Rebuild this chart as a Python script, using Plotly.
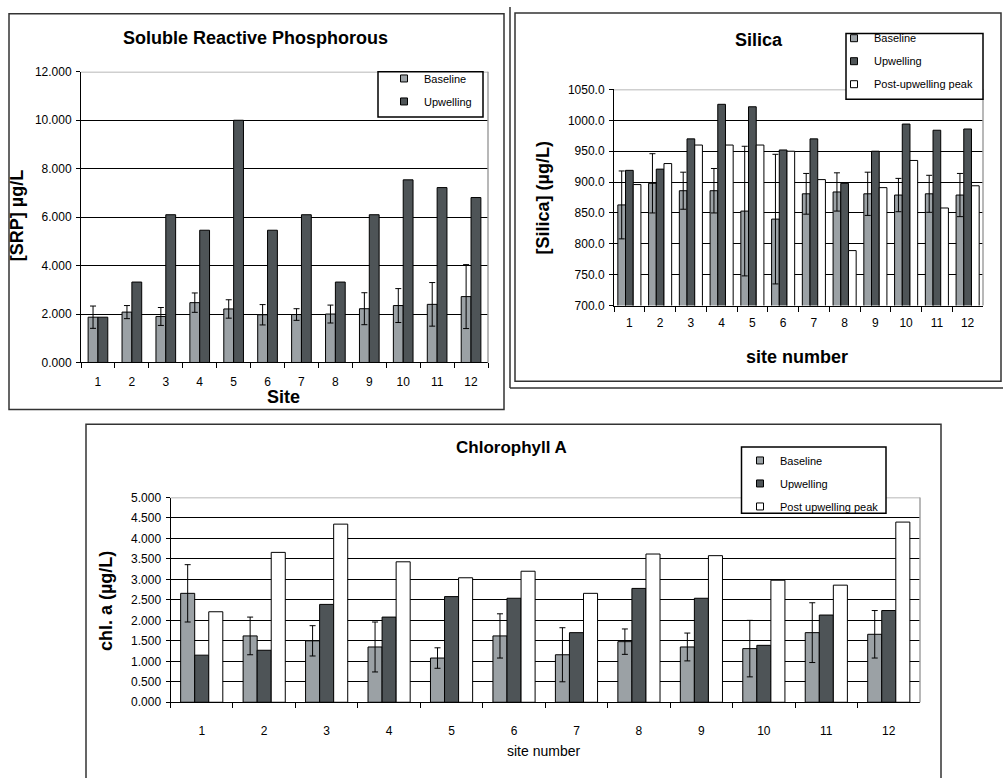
import plotly.graph_objects as go

W, H = 1003, 778

sites = [str(i) for i in range(1, 13)]

# Soluble Reactive Phosphorous (µg/L)
srp_baseline = [1.87, 2.08, 1.90, 2.47, 2.21, 1.97, 1.98, 2.00, 2.22, 2.35, 2.40, 2.72]
srp_baseline_err = [0.46, 0.27, 0.37, 0.40, 0.38, 0.42, 0.24, 0.37, 0.66, 0.70, 0.90, 1.32]
srp_upwelling = [1.87, 3.32, 6.10, 5.46, 10.00, 5.46, 6.10, 3.32, 6.10, 7.54, 7.22, 6.81]

# Silica (µg/L)
si_baseline = [863, 898, 886, 886, 853, 840, 881, 884, 881, 879, 881, 879]
si_baseline_err = [55, 48, 30, 36, 105, 105, 33, 31, 35, 27, 30, 35]
si_upwelling = [919, 921, 970, 1026, 1022, 952, 970, 898, 950, 994, 984, 986]
si_post = [896, 930, 960, 960, 960, 950, 904, 789, 891, 935, 858, 894]

# Chlorophyll a (µg/L)
chl_baseline = [2.66, 1.62, 1.50, 1.35, 1.08, 1.62, 1.16, 1.48, 1.35, 1.31, 1.70, 1.66]
chl_baseline_err = [0.70, 0.46, 0.37, 0.61, 0.25, 0.54, 0.66, 0.31, 0.34, 0.69, 0.73, 0.58]
chl_upwelling = [1.15, 1.27, 2.39, 2.08, 2.58, 2.54, 1.70, 2.78, 2.54, 1.39, 2.13, 2.24]
chl_post = [2.21, 3.66, 4.35, 3.43, 3.04, 3.20, 2.66, 3.62, 3.58, 2.98, 2.86, 4.40]

C_BASE = "#9ba1a5"
C_UP = "#4e5457"
C_POST = "#ffffff"
FONT = "Liberation Sans, Arial, sans-serif"


def px(x):
    return x / W


def py(y):
    return 1 - y / H


fig = go.Figure()

err_style = dict(type="data", symmetric=True, color="black", thickness=1, width=3)
line_style = dict(color="black", width=1)

# --- SRP ---
fig.add_trace(go.Bar(x=sites, y=srp_baseline, name="Baseline", marker=dict(color=C_BASE, line=line_style),
                     error_y=dict(array=srp_baseline_err, **err_style), xaxis="x", yaxis="y", showlegend=False))
fig.add_trace(go.Bar(x=sites, y=srp_upwelling, name="Upwelling", marker=dict(color=C_UP, line=line_style),
                     xaxis="x", yaxis="y", showlegend=False))
# --- Silica ---
fig.add_trace(go.Bar(x=sites, y=si_baseline, name="Baseline", marker=dict(color=C_BASE, line=line_style),
                     error_y=dict(array=si_baseline_err, **err_style), xaxis="x2", yaxis="y2", showlegend=False))
fig.add_trace(go.Bar(x=sites, y=si_upwelling, name="Upwelling", marker=dict(color=C_UP, line=line_style),
                     xaxis="x2", yaxis="y2", showlegend=False))
fig.add_trace(go.Bar(x=sites, y=si_post, name="Post-upwelling peak", marker=dict(color=C_POST, line=line_style),
                     xaxis="x2", yaxis="y2", showlegend=False))
# --- Chlorophyll ---
fig.add_trace(go.Bar(x=sites, y=chl_baseline, name="Baseline", marker=dict(color=C_BASE, line=line_style),
                     error_y=dict(array=chl_baseline_err, **err_style), xaxis="x3", yaxis="y3", showlegend=False))
fig.add_trace(go.Bar(x=sites, y=chl_upwelling, name="Upwelling", marker=dict(color=C_UP, line=line_style),
                     xaxis="x3", yaxis="y3", showlegend=False))
fig.add_trace(go.Bar(x=sites, y=chl_post, name="Post upwelling peak", marker=dict(color=C_POST, line=line_style),
                     xaxis="x3", yaxis="y3", showlegend=False))


# legend entries (small square swatches)
def legend_entry(name, color, leg, xa, ya, grp):
    fig.add_trace(go.Scatter(x=[None], y=[None], mode="markers", name=name, legend=leg, legendgroup=grp,
                             marker=dict(symbol="square", size=7, color=color, line=dict(color="black", width=1)),
                             xaxis=xa, yaxis=ya, showlegend=True))


legend_entry("Baseline", C_BASE, "legend", "x", "y", "a1")
legend_entry("Upwelling", C_UP, "legend", "x", "y", "a2")
legend_entry("Baseline", C_BASE, "legend2", "x2", "y2", "b1")
legend_entry("Upwelling", C_UP, "legend2", "x2", "y2", "b2")
legend_entry("Post-upwelling peak", C_POST, "legend2", "x2", "y2", "b3")
legend_entry("Baseline", C_BASE, "legend3", "x3", "y3", "c1")
legend_entry("Upwelling", C_UP, "legend3", "x3", "y3", "c2")
legend_entry("Post upwelling peak", C_POST, "legend3", "x3", "y3", "c3")

tickfont = dict(family=FONT, size=12, color="black")


def xax(dom, anchor, standoff):
    return dict(domain=dom, anchor=anchor, type="category", tickson="boundaries", ticks="outside", ticklen=5,
                tickcolor="black", showline=True, linecolor="black", linewidth=1, tickfont=tickfont,
                showgrid=False, fixedrange=True, ticklabelstandoff=standoff)


def yax(dom, anchor, rng, dtick, fmt):
    return dict(domain=dom, anchor=anchor, range=rng, dtick=dtick, tick0=rng[0], tickformat=fmt, ticks="outside",
                ticklen=4, tickcolor="black", showline=True, linecolor="black", linewidth=1, showgrid=True,
                gridcolor="black", gridwidth=1, zeroline=False, tickfont=tickfont, fixedrange=True,
                ticklabelstandoff=2)


srp_x = [px(81), px(488)]
srp_y = [py(362), py(66)]
si_x = [px(614), px(983)]
si_y = [py(304), py(84)]
chl_x = [px(170.5), px(920)]
chl_y = [py(708), py(499.5)]

leg_common = dict(bgcolor="rgba(0,0,0,0)", borderwidth=0, font=dict(family=FONT, size=11, color="black"),
                  xanchor="left", yanchor="top", tracegroupgap=4, itemclick=False, itemdoubleclick=False)

fig.update_layout(
    width=W, height=H, margin=dict(l=0, r=0, t=0, b=0), autosize=False,
    paper_bgcolor="white", plot_bgcolor="white",
    barmode="group", bargroupgap=0,
    xaxis=xax(srp_x, "y", 8), yaxis=yax(srp_y, "x", [0, 12], 2, ".3f"),
    xaxis2=xax(si_x, "y2", 6), yaxis2=yax(si_y, "x2", [700, 1050], 50, ".1f"),
    xaxis3=xax(chl_x, "y3", 17), yaxis3=yax(chl_y, "x3", [0, 5], 0.5, ".3f"),
    legend=dict(x=px(384), y=py(58), **leg_common),
    legend2=dict(x=px(834), y=py(17), **leg_common),
    legend3=dict(x=px(740), y=py(447), **leg_common),
    showlegend=True,
)

# bar widths / offsets (category units) so each panel matches its own spacing
widths = {"x": 0.29, "x2": 0.25, "x3": 0.225}
offs = {"x": [-0.29, 0.0], "x2": [-0.375, -0.125, 0.125], "x3": [-0.3375, -0.1125, 0.1125]}
counters = {"x": 0, "x2": 0, "x3": 0}
for tr in fig.data:
    if tr.type == "bar":
        k = tr.xaxis
        tr.width = widths[k]
        tr.offset = offs[k][counters[k]]
        counters[k] += 1

shapes = []
# panel frames
shapes.append(dict(type="rect", xref="paper", yref="paper", x0=px(9), x1=px(504), y0=py(410), y1=py(7),
                   line=dict(color="#333333", width=1.5), layer="below"))
shapes.append(dict(type="line", xref="paper", yref="paper", x0=px(510), x1=px(510), y0=py(388), y1=py(0),
                   line=dict(color="#333333", width=1.5)))
shapes.append(dict(type="line", xref="paper", yref="paper", x0=px(510), x1=px(1003), y0=py(388), y1=py(388),
                   line=dict(color="#333333", width=1.5)))
shapes.append(dict(type="rect", xref="paper", yref="paper", x0=px(515), x1=px(1001), y0=py(381), y1=py(6),
                   line=dict(color="#333333", width=1.5), layer="below"))
shapes.append(dict(type="rect", xref="paper", yref="paper", x0=px(86), x1=px(941), y0=py(800), y1=py(425),
                   line=dict(color="#333333", width=1.5), layer="below"))
# plot-area top and right borders (grey)
for xa, ya, top in [("x", "y", 12), ("x2", "y2", 1050), ("x3", "y3", 5)]:
    shapes.append(dict(type="line", xref=xa + " domain", yref=ya, x0=0, x1=1, y0=top, y1=top,
                       line=dict(color="#a0a0a0", width=1.5), layer="above"))
    shapes.append(dict(type="line", xref=xa + " domain", yref=ya + " domain", x0=1, x1=1, y0=0, y1=1,
                       line=dict(color="#a0a0a0", width=1.5), layer="above"))
# legend boxes
for x0, x1, y0, y1 in [(378, 483, 66, 112), (846, 983, 27, 94), (741.5, 886, 448, 515.5)]:
    shapes.append(dict(type="rect", xref="paper", yref="paper", x0=px(x0), x1=px(x1), y0=py(y1), y1=py(y0),
                       line=dict(color="black", width=1.5), fillcolor="white", layer="above"))
fig.update_layout(shapes=shapes)


def ann(text, x, y, size, bold=True, angle=0):
    fig.add_annotation(text=f"<b>{text}</b>" if bold else text, x=px(x), y=py(y), xref="paper", yref="paper",
                       showarrow=False, textangle=angle, xanchor="center", yanchor="middle",
                       font=dict(family=FONT, size=size, color="black"))


ann("Soluble Reactive Phosphorous", 256, 32, 18)
ann("[SRP] µg/L", 17, 213, 18, angle=-90)
ann("Site", 283, 397, 18)
ann("Silica", 759, 34, 18)
ann("[Silica] (µg/L)", 543, 195, 18, angle=-90)
ann("site number", 797, 356, 18)
ann("Chlorophyll A", 512, 449, 17)
ann("chl. a (µg/L)", 106, 605, 18, angle=-90)
ann("site number", 543, 758, 14, bold=False)

fig.write_html("out.html", config={"displayModeBar": False},
               post_script="document.body.style.margin='0px';document.body.style.overflow='hidden';")
